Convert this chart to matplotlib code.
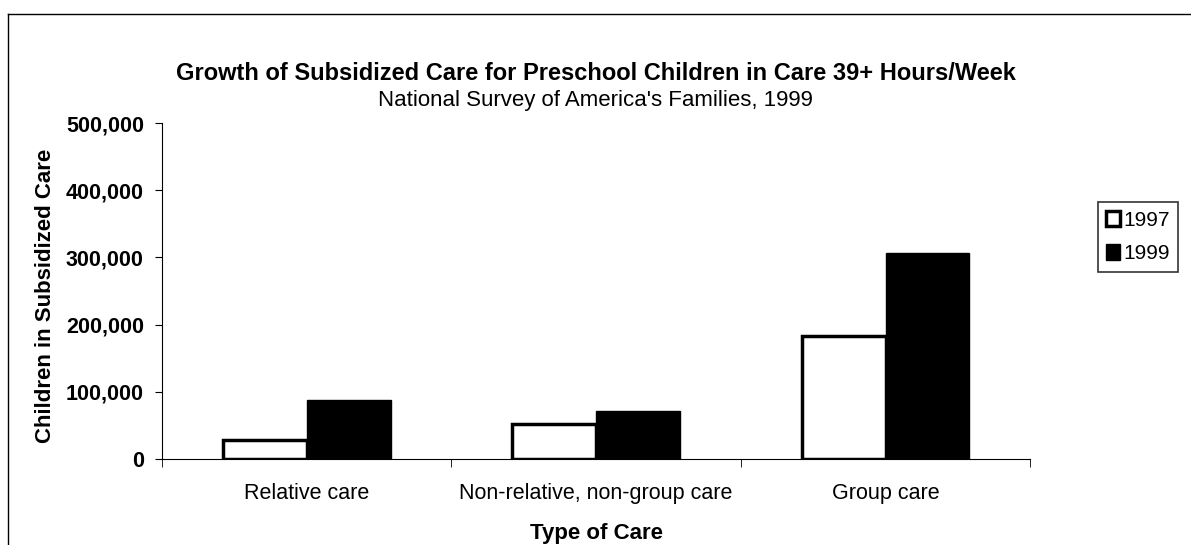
import matplotlib.pyplot as plt
import numpy as np

plt.rcParams['font.family'] = ['Liberation Sans', 'DejaVu Sans']

categories = ['Relative care', 'Non-relative, non-group care', 'Group care']
years = ['1997', '1999']
v1997 = [28000, 52000, 183000]
v1999 = [88000, 72000, 307000]
yticks = [0, 100000, 200000, 300000, 400000, 500000]

fig = plt.figure(figsize=(11.91, 5.45), dpi=100)
ax = fig.add_axes([0.136, 0.158, 0.729, 0.616])

x = np.arange(len(categories))
w = 0.29
ax.bar(x - w/2, v1997, w, color='white', edgecolor='black', linewidth=2.5, label=years[0])
ax.bar(x + w/2, v1999, w, color='black', edgecolor='black', linewidth=1, label=years[1])

ax.set_xlim(-0.5, 2.5)
ax.set_ylim(0, 500000)
ax.set_yticks(yticks)
ax.set_yticklabels([f'{t:,}' for t in yticks], fontsize=15.5, fontweight='bold')
ax.set_xticks(x)
ax.set_xticklabels(categories, fontsize=15.5)
ax.tick_params(axis='x', length=0, pad=17)
ax.set_xticks([-0.5, 0.5, 1.5, 2.5], minor=True)
ax.tick_params(axis='x', which='minor', length=6, direction='out')
ax.tick_params(axis='y', length=5, direction='out', pad=8)
for s in ['top', 'right']:
    ax.spines[s].set_visible(False)

ax.set_xlabel('Type of Care', fontsize=16, fontweight='bold', labelpad=14)
ax.set_ylabel('Children in Subsidized Care', fontsize=16, fontweight='bold')
ax.yaxis.set_label_coords(-0.122, 0.485)

fig.text(0.5, 0.866, 'Growth of Subsidized Care for Preschool Children in Care 39+ Hours/Week',
         ha='center', va='center', fontsize=17, fontweight='bold')
fig.text(0.5, 0.815, "National Survey of America's Families, 1999",
         ha='center', va='center', fontsize=16)

leg = ax.legend(loc='center', bbox_to_anchor=(0.9555, 0.565), bbox_transform=fig.transFigure,
                fontsize=15, frameon=True, fancybox=False, edgecolor='black',
                handlelength=0.7, handleheight=0.75, handletextpad=0.15,
                borderpad=0.4, labelspacing=0.7, borderaxespad=0)
leg.get_frame().set_linewidth(1.2)

# scanned page border
fig.add_artist(plt.Line2D([0.007, 1.0], [0.974, 0.974], color='black', linewidth=1))
fig.add_artist(plt.Line2D([0.007, 0.007], [0.0, 0.974], color='black', linewidth=1))

fig.savefig('out.png', dpi=100)
